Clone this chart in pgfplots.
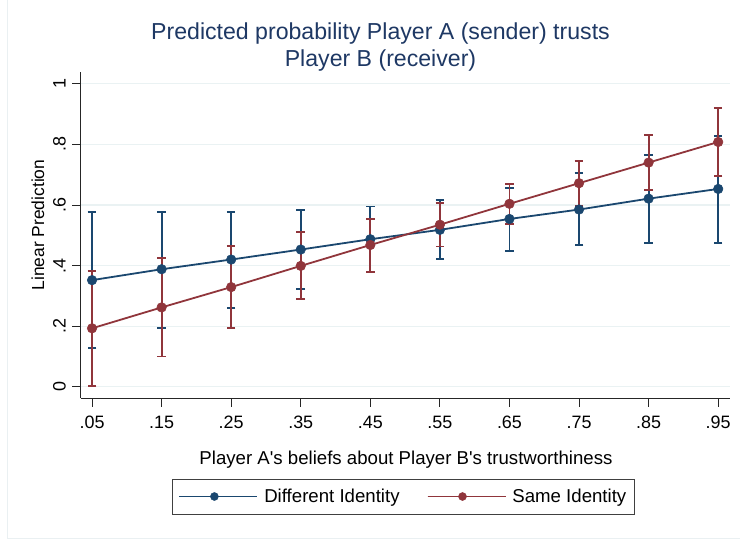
\documentclass[border=0pt]{standalone}
\usepackage{pgfplots}
\pgfplotsset{compat=1.18}
\usepackage{pgfplotstable}
\usepackage{fontspec}
\setmainfont{Liberation Sans}
\definecolor{sblue}{RGB}{26,71,111}
\definecolor{sred}{RGB}{144,53,59}
\definecolor{stitle}{RGB}{30,56,100}
\definecolor{sgrid}{RGB}{234,242,243}
\definecolor{sframe}{RGB}{234,240,242}

\pgfplotstableread{
x    y     lo    hi
0.05 0.352 0.127 0.578
0.15 0.388 0.195 0.578
0.25 0.420 0.261 0.578
0.35 0.453 0.323 0.583
0.45 0.487 0.378 0.595
0.55 0.518 0.422 0.617
0.65 0.554 0.449 0.656
0.75 0.585 0.467 0.706
0.85 0.621 0.475 0.765
0.95 0.653 0.476 0.829
}\diffdata

\pgfplotstableread{
x    y     lo    hi
0.05 0.193 0.003 0.383
0.15 0.262 0.100 0.424
0.25 0.329 0.195 0.466
0.35 0.399 0.289 0.510
0.45 0.468 0.379 0.555
0.55 0.535 0.463 0.608
0.65 0.604 0.537 0.670
0.75 0.672 0.598 0.746
0.85 0.740 0.650 0.832
0.95 0.808 0.696 0.920
}\samedata

\begin{document}
\begin{tikzpicture}
\useasboundingbox (0,0) rectangle (740bp,542bp);
\draw[sframe, line width=1bp] (7.5bp,542bp) -- (7.5bp,3bp) -- (740bp,3bp);
\begin{axis}[
  at={(80.7bp,144bp)}, anchor=south west,
  scale only axis,
  width=649.3bp, height=326.3bp,
  xmin=0.0337, xmax=0.967,
  ymin=-0.037, ymax=1.04,
  axis x line*=bottom, axis y line*=left,
  axis line style={line width=1bp, black!85},
  tick style={line width=1bp, black!85},
  tick align=outside,
  major tick length=8.5bp,
  xtick={0.05,0.15,0.25,0.35,0.45,0.55,0.65,0.75,0.85,0.95},
  xticklabels={.05,.15,.25,.35,.45,.55,.65,.75,.85,.95},
  ytick={0,0.2,0.4,0.6,0.8,1},
  yticklabels={0,.2,.4,.6,.8,1},
  /pgf/number format/assume math mode=true,
  ticklabel style={font=\fontsize{18}{20}\selectfont},
  yticklabel style={rotate=90, anchor=south},
  xticklabel shift=6bp,
  yticklabel shift=3bp,
  ymajorgrids,
  major grid style={sgrid, line width=1.3bp},
  xlabel={Player A\textquotesingle s beliefs about Player B\textquotesingle s trustworthiness},
  xlabel style={font=\fontsize{18.7}{21}\selectfont, at={(axis description cs:0.501,-0.2053)}, anchor=base},
  ylabel={Linear Prediction},
  ylabel style={font=\fontsize{17.5}{20}\selectfont, at={(axis description cs:-0.0658,0.530)}, anchor=center, rotate=0},
  legend columns=2,
  legend style={at={(axis description cs:0.497,-0.3019)}, anchor=center,
    draw=black!75, line width=0.8bp,
    font=\fontsize{18.7}{21}\selectfont,
    inner xsep=6bp, inner ysep=8bp,
    /tikz/every even column/.append style={column sep=25bp}},
  legend image code/.code={
    \draw[#1, mark=none, line width=1.6bp] (0bp,0bp) -- (70bp,0bp);
    \draw[#1, mark=*, mark size=4bp] plot coordinates {(35bp,0bp)};
    \path (0bp,0bp) -- (78bp,0bp);
  },
  clip=false,
]
\addplot[forget plot, only marks, mark=none, sblue, line width=1.9bp,
  error bars/.cd, y dir=both, y explicit,
  error bar style={line width=1.9bp, sblue},
  error mark options={rotate=90, mark size=4.3bp, line width=1.9bp, sblue}]
  table[x=x, y=y, y error plus expr=\thisrow{hi}-\thisrow{y}, y error minus expr=\thisrow{y}-\thisrow{lo}] {\diffdata};
\addplot[forget plot, only marks, mark=none, sred, line width=1.9bp,
  error bars/.cd, y dir=both, y explicit,
  error bar style={line width=1.9bp, sred},
  error mark options={rotate=90, mark size=4.3bp, line width=1.9bp, sred}]
  table[x=x, y=y, y error plus expr=\thisrow{hi}-\thisrow{y}, y error minus expr=\thisrow{y}-\thisrow{lo}] {\samedata};
\addplot[sblue, line width=1.8bp, mark=*, mark size=4.8bp, mark options={fill=sblue, draw=sblue, line width=0.5bp}]
  table[x=x, y=y] {\diffdata};
\addlegendentry{\hspace{4bp}Different Identity}
\addplot[sred, line width=1.8bp, mark=*, mark size=4.8bp, mark options={fill=sred, draw=sred, line width=0.5bp}]
  table[x=x, y=y] {\samedata};
\addlegendentry{\hspace{4bp}Same Identity}
\end{axis}
\node[anchor=base, text=stitle, font=\fontsize{23.2}{26}\selectfont, inner sep=0pt] at (380.5bp,502bp) {Predicted probability Player A (sender) trusts};
\node[anchor=base, text=stitle, font=\fontsize{23.2}{26}\selectfont, inner sep=0pt] at (380.5bp,475.3bp) {Player B (receiver)};
\end{tikzpicture}
\end{document}
